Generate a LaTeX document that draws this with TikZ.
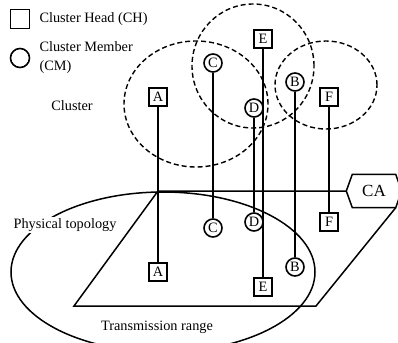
\documentclass[tikz,border=0pt]{standalone}
\usepackage{fontspec}
\setmainfont{Liberation Serif}
\usetikzlibrary{positioning,calc}

\begin{document}
\begin{tikzpicture}[
  x=1pt, y=-1pt,
  every node/.style={font=\fontsize{14.3}{19}\selectfont},
  chnode/.style={draw, line width=1.6pt, fill=white, minimum size=18pt, inner sep=0pt},
  cmnode/.style={draw, circle, line width=1.6pt, fill=white, minimum size=18pt, inner sep=0pt},
  link/.style={line width=1.5pt},
  clusterline/.style={line width=1.4pt, dash pattern=on 5pt off 3pt},
  txt/.style={inner sep=0pt, align=left}
]
  \clip (0,0) rectangle (398,342);

  % Legend
  \node[chnode, minimum size=19pt] (lgCH) at (20,19) {};
  \node[txt, right=9pt of lgCH] (lgCHtext) {Cluster Head (CH)};
  \node[cmnode, minimum size=19pt] (lgCM) at (20,58) {};
  \node[txt, right=9pt of lgCM] (lgCMtext) {Cluster Member\\(CM)};
  \node (cl) at (72,106) {Cluster};

  % Clusters
  \draw[clusterline] (196,104) ellipse [x radius=72pt, y radius=63pt];
  \draw[clusterline] (253,66) ellipse [x radius=61pt, y radius=62pt];
  \draw[clusterline] (326,85) ellipse [x radius=51pt, y radius=44pt];

  % Physical topology
  \node[inner sep=0pt, minimum width=43pt, minimum height=33pt] (CA) at (374,191)
    {\fontsize{17}{20}\selectfont CA};
  \coordinate (caw) at ($(CA.west)+(-6,0)$);
  \coordinate (cae) at ($(CA.east)+(6,0)$);
  \draw[link] (caw) -- (CA.north west) -- (CA.north east)
    -- (cae) -- (CA.south east) -- (CA.south west) -- cycle;
  \coordinate (tl) at (158,191);
  \coordinate (br) at (316,306);
  \coordinate (bl) at (74,306);
  \draw[link] (tl) -- (caw) (CA.south east) -- (br) -- (bl) -- (tl);

  % Transmission range
  \draw[link] (163,272) ellipse [x radius=152pt, y radius=80pt];
  \node[fill=white, inner sep=1pt] (pt) at (65,225) {Physical topology};
  \node (tr) at (157,327) {Transmission range};

  % Upper nodes
  \node[chnode] (A1) at (158,97) {A};
  \node[cmnode] (C1) at (213,63) {C};
  \node[chnode] (E1) at (263,39) {E};
  \node[cmnode] (D1) at (254,108) {D};
  \node[cmnode] (B1) at (295,82) {B};
  \node[chnode] (F1) at (329,97) {F};

  % Lower nodes
  \node[chnode] (A2) at (158,272) {A};
  \node[cmnode] (C2) at (213,228) {C};
  \node[chnode] (E2) at (263,287) {E};
  \node[cmnode] (D2) at (254,222) {D};
  \node[cmnode] (B2) at (295,267) {B};
  \node[chnode] (F2) at (329,222) {F};

  % Vertical links
  \foreach \n in {A,C,E,D,B,F}
    \draw[link] (\n1) -- (\n2);
\end{tikzpicture}
\end{document}
